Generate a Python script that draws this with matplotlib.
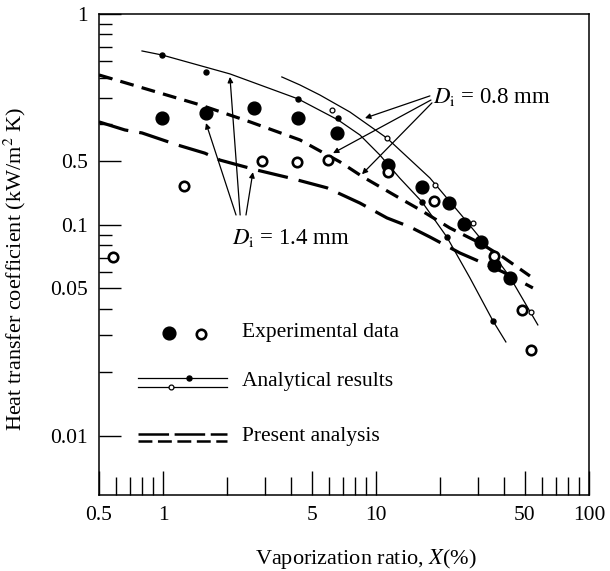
import matplotlib
matplotlib.use('Agg')
import matplotlib.pyplot as plt
from matplotlib.ticker import FixedLocator, FixedFormatter, NullFormatter

plt.rcParams['font.family'] = ['Liberation Serif', 'DejaVu Serif']
plt.rcParams['mathtext.fontset'] = 'stix'
plt.rcParams['lines.scale_dashes'] = False

# experimental data
exp_filled_x = [0.99, 1.59, 2.67, 4.3, 6.55, 11.4, 16.4, 22.0, 25.9, 31.0, 35.7, 42.5]
exp_filled_y = [0.321, 0.340, 0.359, 0.321, 0.273, 0.192, 0.151, 0.127, 0.101, 0.083, 0.0646, 0.056]
exp_open_x = [0.58, 1.25, 2.91, 4.25, 5.94, 11.4, 18.7, 35.7, 48.4, 53.4]
exp_open_y = [0.0705, 0.153, 0.201, 0.199, 0.203, 0.178, 0.130, 0.0713, 0.0396, 0.0256]

# analytical results, Di = 1.4 mm (filled) and Di = 0.8 mm (open)
ana14_x = [0.796, 0.99, 2.06, 4.3, 6.62, 8.4, 10.4, 12.9, 16.4, 21.5, 27.6, 35.4, 40.7]
ana14_y = [0.668, 0.639, 0.520, 0.396, 0.315, 0.267, 0.215, 0.167, 0.129, 0.0877, 0.0561, 0.0351, 0.0279]
ana14_pts_x = [0.99, 1.59, 4.3, 6.62, 16.4, 21.5, 35.4]
ana14_pts_y = [0.639, 0.531, 0.396, 0.321, 0.129, 0.0877, 0.0351]
ana08_x = [3.61, 4.39, 5.45, 7.54, 11.25, 17.9, 25.6, 34.3, 42.5, 57.5]
ana08_y = [0.503, 0.461, 0.413, 0.343, 0.258, 0.167, 0.109, 0.0761, 0.0567, 0.0336]
ana08_pts_x = [6.21, 11.25, 18.9, 28.5, 53.2]
ana08_pts_y = [0.351, 0.258, 0.155, 0.102, 0.0387]

# present analysis
pa08_x = [0.5, 0.867, 1.49, 2.56, 4.39, 6.77, 8.67, 12.9, 16.1, 22.2, 30.7, 39.4, 52.8]
pa08_y = [0.514, 0.436, 0.371, 0.308, 0.253, 0.199, 0.169, 0.134, 0.118, 0.0968, 0.0822, 0.0705, 0.0573]
pa14_x = [0.5, 0.662, 0.796, 1.175, 1.57, 1.85, 2.76, 3.94, 5.88, 8.4, 11.25, 14.4, 17.9, 24.8, 31.8, 39.4, 54.5]
pa14_y = [0.308, 0.282, 0.273, 0.239, 0.219, 0.203, 0.182, 0.167, 0.150, 0.127, 0.108, 0.098, 0.0877,
          0.0736, 0.0660, 0.0599, 0.0503]

# axis ticks (the original labels the 0.2 tick "0.5")
x_major = [0.5, 1, 5, 10, 50, 100]
x_major_labels = ['0.5', '1', '5', '10', '50', '100']
x_minor = [0.6, 0.7, 0.8, 0.9, 2, 3, 4, 6, 7, 8, 9, 20, 30, 40, 60, 70, 80, 90]
y_major = [1, 0.2, 0.1, 0.05, 0.01]
y_major_labels = ['1', '0.5', '0.1', '0.05', '0.01']
y_minor = [0.9, 0.8, 0.7, 0.6, 0.5, 0.4, 0.3, 0.09, 0.08, 0.07, 0.06, 0.04, 0.03, 0.02]

fs = 15.5

fig = plt.figure(figsize=(6.1, 5.71), dpi=100)
ax = fig.add_axes([0.1623, 0.1331, 0.8033, 0.8424])
ax.set_xscale('log')
ax.set_yscale('log')
ax.set_xlim(0.5, 100)
ax.set_ylim(0.00525, 1.0)

ax.plot(pa08_x, pa08_y, color='k', lw=2.3, dashes=(10, 6))
ax.plot(pa14_x, pa14_y, color='k', lw=2.3, dashes=(22, 8))
ax.plot(ana14_x, ana14_y, color='k', lw=0.9)
ax.plot(ana08_x, ana08_y, color='k', lw=0.9)
ax.plot(ana14_pts_x, ana14_pts_y, 'o', ms=3.6, color='k', lw=0)
ax.plot(ana08_pts_x, ana08_pts_y, 'o', ms=3.5, mfc='white', mec='k', mew=0.9, lw=0)
ax.plot(exp_filled_x, exp_filled_y, 'o', ms=9.2, color='k', lw=0)
ax.plot(exp_open_x, exp_open_y, 'o', ms=6.8, mfc='white', mec='k', mew=1.9, lw=0)

arrow = dict(arrowstyle='-|>', lw=0.9, color='k', mutation_scale=8, shrinkA=0, shrinkB=0)
ax.annotate('', xy=(1.59, 0.304), xytext=(2.20, 0.1115), arrowprops=arrow)
ax.annotate('', xy=(2.06, 0.503), xytext=(2.30, 0.1115), arrowprops=arrow)
ax.annotate('', xy=(2.64, 0.178), xytext=(2.45, 0.1115), arrowprops=arrow)
ax.text(2.10, 0.0868, r'$D_{\rm i}$ = 1.4 mm', fontsize=fs + 1, ha='left', va='center')

ax.annotate('', xy=(8.87, 0.321), xytext=(17.9, 0.409), arrowprops=arrow)
ax.annotate('', xy=(6.28, 0.219), xytext=(18.1, 0.391), arrowprops=arrow)
ax.annotate('', xy=(8.59, 0.174), xytext=(18.3, 0.379), arrowprops=arrow)
ax.text(18.5, 0.404, r'$D_{\rm i}$ = 0.8 mm', fontsize=fs + 1, ha='left', va='center')

# hand-drawn legend inside the axes
tr = ax.transAxes
ax.plot([0.143], [0.337], 'o', ms=9.2, color='k', transform=tr)
ax.plot([0.208], [0.335], 'o', ms=6.8, mfc='white', mec='k', mew=1.9, transform=tr)
ax.text(0.292, 0.337, 'Experimental data', fontsize=fs, va='center', transform=tr)
ax.plot([0.080, 0.261], [0.243, 0.243], color='k', lw=0.9, transform=tr)
ax.plot([0.184], [0.243], 'o', ms=3.6, color='k', transform=tr)
ax.plot([0.080, 0.261], [0.225, 0.225], color='k', lw=0.9, transform=tr)
ax.plot([0.147], [0.225], 'o', ms=3.5, mfc='white', mec='k', mew=0.9, transform=tr)
ax.text(0.292, 0.237, 'Analytical results', fontsize=fs, va='center', transform=tr)
ax.plot([0.080, 0.261], [0.127, 0.127], color='k', lw=1.8, dashes=(22, 4), transform=tr)
ax.plot([0.080, 0.261], [0.112, 0.112], color='k', lw=1.8, dashes=(10, 4), transform=tr)
ax.text(0.292, 0.122, 'Present analysis', fontsize=fs, va='center', transform=tr)

ax.xaxis.set_major_locator(FixedLocator(x_major))
ax.xaxis.set_major_formatter(FixedFormatter(x_major_labels))
ax.xaxis.set_minor_locator(FixedLocator(x_minor))
ax.xaxis.set_minor_formatter(NullFormatter())
ax.yaxis.set_major_locator(FixedLocator(y_major))
ax.yaxis.set_major_formatter(FixedFormatter(y_major_labels))
ax.yaxis.set_minor_locator(FixedLocator(y_minor))
ax.yaxis.set_minor_formatter(NullFormatter())

ax.tick_params(axis='x', which='major', direction='in', length=17, width=1.0, pad=8, labelsize=fs)
ax.tick_params(axis='x', which='minor', direction='in', length=13, width=1.0)
ax.tick_params(axis='y', which='major', direction='in', length=16, width=1.0, pad=8, labelsize=fs)
ax.tick_params(axis='y', which='minor', direction='in', length=9, width=1.0)
for s in ax.spines.values():
    s.set_linewidth(1.1)

ax.set_xlabel('Vaporization ratio, $X$(%)', fontsize=fs + 0.5)
ax.set_ylabel('Heat transfer coefficient (kW/m$^2$ K)', fontsize=fs + 0.5)
ax.xaxis.set_label_coords(0.545, -0.108)
ax.yaxis.set_label_coords(-0.145, 0.47)

fig.savefig('out.png', dpi=100)
